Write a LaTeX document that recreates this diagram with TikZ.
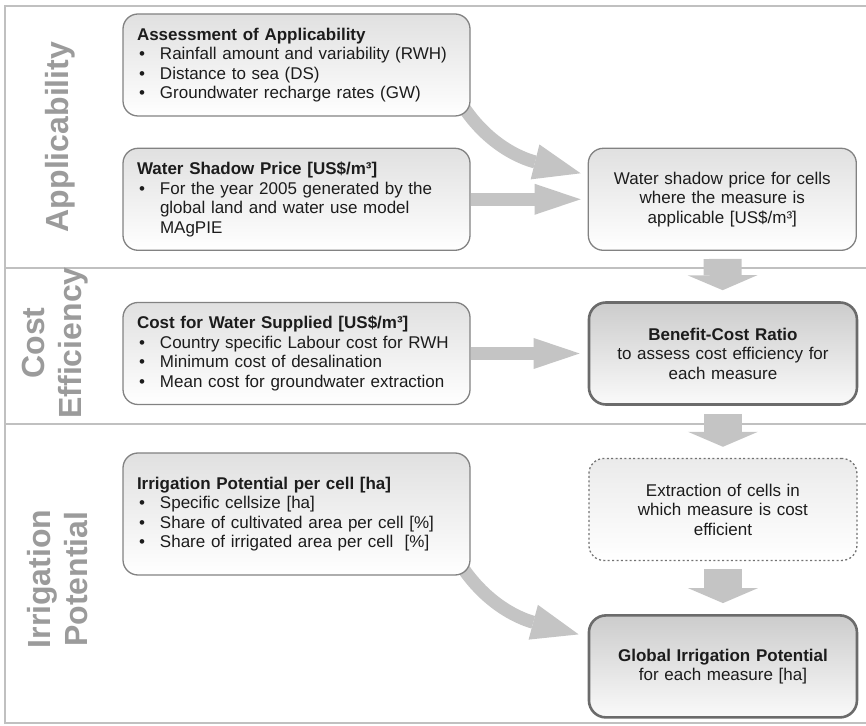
\documentclass[tikz,border=0pt]{standalone}
\usepackage{fontspec}
\setmainfont{Liberation Sans}
\usepackage{tikz}
\usetikzlibrary{arrows.meta, positioning, backgrounds}
\definecolor{framegray}{RGB}{192,192,192}
\definecolor{labelgray}{RGB}{155,155,155}
\definecolor{arrowgray}{RGB}{196,196,196}
\definecolor{edgegray}{RGB}{130,130,130}
\definecolor{textdark}{RGB}{28,28,28}
\newcommand{\bitem}{\makebox[23pt][l]{\hspace{2pt}\textbullet}}
\newcommand{\bcont}{\hspace*{23pt}}

\begin{document}
\begin{tikzpicture}[
      x=1pt, y=1pt,
      node distance=117pt,
      every node/.style={font=\fontsize{17}{19.5}\selectfont, text=textdark},
      inputbox/.style={rectangle, rounded corners=15pt, draw=edgegray, line width=1.3pt,
                       top color=gray!24, bottom color=white,
                       text width=319pt, inner xsep=14pt, inner ysep=0pt,
                       minimum height=102pt, align=left},
      resultbox/.style={rectangle, rounded corners=15pt, draw=edgegray, line width=1.3pt,
                        top color=gray!24, bottom color=white,
                        text width=240pt, inner xsep=14pt, inner ysep=0pt,
                        minimum height=102pt, align=center},
      keybox/.style={resultbox, rounded corners=17pt, draw=black!58, line width=2.6pt,
                     top color=gray!40, bottom color=gray!4},
      dotbox/.style={resultbox, draw=black!55, dash pattern=on 2pt off 2.4pt,
                     top color=gray!16},
      phase/.style={rotate=90, align=center, text=labelgray,
                    font=\fontsize{32}{37}\selectfont\bfseries},
      flow/.style={draw=arrowgray, line width=13pt,
                   -{Triangle[width=31pt, length=46pt, line width=0pt]}},
      bentflow/.style={flow, -{Triangle[width=36pt, length=47pt, line width=0pt]}},
      drop/.style={draw=arrowgray, line width=38pt, shorten <=8pt, shorten >=11pt,
                   -{Triangle[width=70pt, length=15pt, line width=0pt]}}
    ]
    \useasboundingbox (0,0) rectangle (866,725);

    % phases
    \node[phase] (appl) at (60,588) {Applicability};
    \node[phase] (costeff) at (55,382) {Cost\\Efficiency};
    \node[phase] (irrpot) at (58,146) {Irrigation\\Potential};

    % left column
    \node[inputbox] (assess) at (296.5,660)
      {\textbf{Assessment of Applicability}\\
       \bitem Rainfall amount and variability (RWH)\\
       \bitem Distance to sea (DS)\\
       \bitem Groundwater recharge rates (GW)};
    \node[inputbox, below=31pt of assess] (price)
      {\textbf{Water Shadow Price [US\$/m³]}\\
       \bitem For the year 2005 generated by the\\
       \bcont global land and water use model\\
       \bcont MAgPIE};
    \node[inputbox] (cost) at (296.5,371.5)
      {\textbf{Cost for Water Supplied [US\$/m³]}\\
       \bitem Country specific Labour cost for RWH\\
       \bitem Minimum cost of desalination\\
       \bitem Mean cost for groundwater extraction};
    \node[inputbox, minimum height=122pt] (irrig) at (296.5,211)
      {\textbf{Irrigation Potential per cell [ha]}\\
       \bitem Specific cellsize [ha]\\
       \bitem Share of cultivated area per cell [\%]\\
       \bitem Share of irrigated area per cell~~[\%]};

    % right column
    \node[resultbox, right=of price] (cellprice)
      {Water shadow price for cells\\ where the measure is\\ applicable [US\$/m³]};
    \node[keybox, right=of cost] (ratio)
      {\textbf{Benefit-Cost Ratio}\\ to assess cost efficiency for\\ each measure};
    \node[dotbox, below=52pt of ratio] (extract)
      {Extraction of cells in\\ which measure is cost\\ efficient};
    \node[keybox, below=53pt of extract] (global)
      {\textbf{Global Irrigation Potential}\\ for each measure [ha]\\[8pt]};

    \begin{scope}[on background layer]
      \draw[framegray, line width=2.5pt] (866,719) -- (5,719) -- (5,2) -- (866,2);
      \draw[framegray, line width=2.5pt] (5,457) -- (866,457) (5,301) -- (866,301);

      \draw[bentflow] ([xshift=-10pt, yshift=14pt]assess.south east)
        to[out=-58, in=166] ([xshift=-7pt, yshift=26pt]cellprice.west);
      \draw[flow, shorten >=7pt] (price) -- (cellprice);
      \draw[flow, shorten >=8pt] (cost) -- (ratio);
      \draw[bentflow] ([xshift=-12pt, yshift=14pt]irrig.south east)
        to[out=-58, in=165] ([xshift=-9pt, yshift=32pt]global.west);

      \draw[drop] (cellprice) -- (ratio);
      \draw[drop] (ratio) -- (extract);
      \draw[drop] (extract) -- (global);
    \end{scope}
  \end{tikzpicture}
\end{document}
